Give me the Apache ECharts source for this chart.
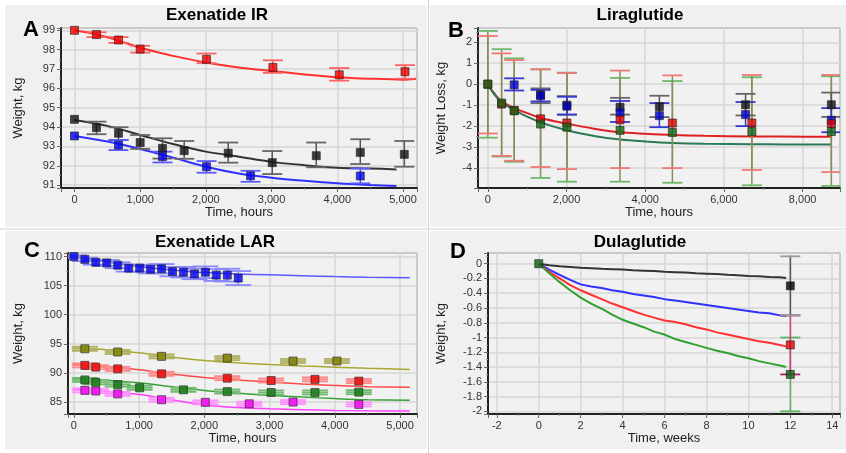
<!DOCTYPE html>
<html>
<head>
<meta charset="utf-8">
<script src="https://cdn.jsdelivr.net/npm/echarts@6/dist/echarts.min.js"></script>
<style>html,body{margin:0;padding:0;background:#fff}#main{width:846px;height:453px}</style>
</head>
<body>
<div id="main"></div>
<script>
// ---- A: Exenatide IR (hours, kg)
var aRedPts = [[0,99.0],[335,98.78],[670,98.5],[1000,98.03],[2010,97.5],[3020,97.08],[4030,96.7],[5030,96.86]];
var aRedErr = [[335,98.65,98.9],[670,98.35,98.65],[1000,97.85,98.2],[2010,97.3,97.8],[3020,96.8,97.45],[4030,96.4,97.05],[5030,96.5,97.2]];
var aBlackPts = [[0,94.4],[335,93.97],[670,93.68],[1000,93.2],[1340,92.9],[1670,92.78],[2340,92.65],[3010,92.16],[3680,92.52],[4350,92.69],[5020,92.59]];
var aBlackErr = [[335,93.63,94.28],[670,93.33,93.99],[1000,92.87,93.59],[1340,92.37,93.42],[1670,92.36,93.28],[2340,92.16,93.2],[3010,91.57,92.76],[3680,91.92,93.2],[4350,92.09,93.37],[5020,91.95,93.28]];
var aBluePts = [[0,93.54],[670,93.07],[1340,92.47],[2010,91.95],[2680,91.48],[4350,91.47]];
var aBlueErr = [[670,92.81,93.33],[1340,92.17,92.73],[2010,91.64,92.24],[2680,91.17,91.74],[4350,91.09,91.86]];
var aRedFit = [[0,99.0],[250,98.85],[500,98.64],[750,98.38],[1000,98.1],[1250,97.88],[1500,97.68],[2000,97.34],[2500,97.08],[3000,96.9],[3500,96.72],[4000,96.58],[4500,96.5],[5000,96.45],[5200,96.5]];
var aBlackFit = [[0,94.37],[500,94.06],[1000,93.59],[1500,93.12],[2000,92.73],[2500,92.47],[3000,92.2],[3500,92.03],[4000,91.9],[4500,91.86],[4900,91.81]];
var aBlueFit = [[0,93.54],[500,93.25],[1000,92.87],[1500,92.42],[2000,91.95],[2500,91.6],[3000,91.38],[3500,91.22],[4000,91.09],[4500,91.0],[4900,90.95]];

// ---- B: Liraglutide (hours, weight loss kg)
var bGreenPts = [[0,0],[350,-0.9],[670,-1.27],[1340,-1.9],[2010,-2.05],[3360,-2.2],[4690,-2.3],[6710,-2.26],[8730,-2.26]];
var bRedPts = [[0,0],[350,-0.95],[670,-1.25],[1340,-1.65],[2010,-1.85],[3360,-1.7],[4690,-1.85],[6710,-1.85],[8730,-1.88]];
var bBluePts = [[670,-0.03],[1340,-0.55],[2010,-1.05],[3360,-1.35],[4360,-1.5],[6550,-1.45],[8730,-1.72]];
var bBlackPts = [[1340,-0.5],[2010,-1.0],[3360,-1.1],[4360,-1.07],[6550,-0.98],[8730,-0.98]];
var bGreenErr = [[0,-2.55,2.54],[350,-3.45,1.67],[670,-3.7,1.23],[1340,-4.47,0.71],[2010,-4.65,0.55],[3360,-4.65,0.3],[4690,-4.7,0.15],[6710,-4.82,0.33],[8730,-4.85,0.38]];
var bRedErr = [[0,-2.35,2.3],[350,-3.42,1.47],[670,-3.65,1.15],[1340,-3.95,0.71],[2010,-4.05,0.53],[3360,-4.0,0.65],[4690,-4.0,0.42],[6710,-4.09,0.44],[8730,-4.19,0.44]];
var bBlueErr = [[670,-0.3,0.28],[1340,-0.82,-0.27],[2010,-1.45,-0.6],[3360,-1.8,-0.8],[4360,-2.05,-0.9],[6550,-2.0,-0.85],[8730,-2.29,-1.14]];
var bBlackErr = [[1340,-0.9,-0.2],[2010,-1.45,-0.57],[3360,-1.45,-0.65],[4360,-1.57,-0.55],[6550,-1.49,-0.46],[8730,-1.56,-0.4]];
var bRedFit = [[0,0],[150,-0.4],[350,-0.82],[670,-1.14],[1000,-1.38],[1340,-1.61],[2010,-1.88],[2700,-2.12],[3360,-2.29],[4000,-2.36],[4690,-2.42],[5500,-2.46],[6700,-2.49],[7500,-2.5],[8730,-2.51]];
var bGreenFit = [[0,0],[150,-0.45],[350,-0.87],[670,-1.22],[1000,-1.55],[1340,-1.82],[2010,-2.2],[2700,-2.47],[3360,-2.64],[4000,-2.73],[4690,-2.8],[5500,-2.84],[6700,-2.86],[7500,-2.87],[8730,-2.88]];

// ---- C: Exenatide LAR (hours, kg)
var cBluePts = [[0,110.0],[168,109.5],[336,109.0],[504,108.9],[672,108.5],[840,108.0],[1008,108.0],[1176,107.8],[1344,107.9],[1512,107.4],[1680,107.3],[1848,107.0],[2016,107.3],[2184,106.8],[2352,106.8],[2520,106.3]];
var cBlueErr = [[0,109.8,110.2],[168,109.2,109.8],[336,108.6,109.4],[504,108.4,109.4],[672,108.0,109.0],[840,107.4,108.6],[1008,107.4,108.6],[1176,107.1,108.5],[1344,107.1,108.7],[1512,106.6,108.2],[1680,106.4,108.2],[1848,106.1,107.9],[2016,106.3,108.3],[2184,105.8,107.8],[2352,105.7,107.9],[2520,105.1,107.5]];
var cOlivePts = [[168,94.15],[672,93.6],[1344,92.85],[2352,92.55],[3360,92.05],[4032,92.05]];
var cOliveErr = [[168,93.8,94.5],[672,93.25,93.95],[1344,92.5,93.2],[2352,92.2,92.9],[3360,91.7,92.4],[4032,91.7,92.4]];
var cRedPts = [[168,91.3],[336,91.0],[672,90.7],[1344,89.85],[2352,89.1],[3024,88.7],[3696,88.9],[4368,88.6]];
var cRedErr = [[168,90.95,91.65],[336,90.65,91.35],[672,90.35,91.05],[1344,89.5,90.2],[2352,88.75,89.45],[3024,88.35,89.05],[3696,88.55,89.25],[4368,88.25,88.95]];
var cGreenPts = [[168,88.8],[336,88.4],[672,88.0],[1008,87.45],[1680,87.1],[2352,86.8],[3024,86.65],[3696,86.65],[4368,86.7]];
var cGreenErr = [[168,88.45,89.15],[336,88.05,88.75],[672,87.65,88.35],[1008,87.1,87.8],[1680,86.75,87.45],[2352,86.45,87.15],[3024,86.3,87.0],[3696,86.3,87.0],[4368,86.35,87.05]];
var cMagentaPts = [[168,87.0],[336,86.9],[672,86.4],[1344,85.4],[2016,84.95],[2688,84.7],[3360,85.0],[4368,84.6]];
var cMagentaErr = [[168,86.65,87.35],[336,86.55,87.25],[672,86.05,86.75],[1344,85.05,85.75],[2016,84.6,85.3],[2688,84.35,85.05],[3360,84.65,85.35],[4368,84.25,84.95]];
var cBlueFit = [[0,110.0],[250,109.55],[500,109.1],[1000,108.3],[1500,107.7],[2000,107.25],[2500,107.0],[3000,106.85],[3500,106.7],[4000,106.55],[4500,106.45],[5150,106.35]];
var cOliveFit = [[0,94.3],[500,94.0],[1000,93.45],[1500,92.7],[2000,92.15],[2500,91.75],[3000,91.45],[3500,91.2],[4000,91.0],[4500,90.8],[5150,90.6]];
var cRedFit = [[0,91.4],[500,91.1],[1000,90.55],[1500,89.8],[2000,89.2],[2500,88.8],[3000,88.45],[3500,88.1],[4000,87.85],[4500,87.65],[5150,87.55]];
var cGreenFit = [[0,89.0],[500,88.75],[1000,88.3],[1500,87.65],[2000,87.0],[2500,86.5],[3000,86.15],[3500,85.85],[4000,85.6],[4500,85.4],[5150,85.3]];
var cMagentaFit = [[0,87.1],[500,86.85],[1000,86.3],[1500,85.4],[2000,84.5],[2500,84.05],[3000,83.85],[3500,83.7],[4000,83.57],[4500,83.5],[5150,83.45]];

// ---- D: Dulaglutide (weeks, kg)
var dWeeks = [0,0.5,1,1.5,2,2.5,3,3.5,4,4.5,5,5.5,6,6.5,7,7.5,8,8.5,9,9.5,10,10.5,11,11.5,11.8];
var dBlack = [0,-0.02,-0.035,-0.045,-0.055,-0.06,-0.07,-0.075,-0.08,-0.09,-0.095,-0.1,-0.11,-0.115,-0.12,-0.13,-0.135,-0.14,-0.15,-0.155,-0.165,-0.17,-0.18,-0.185,-0.195];
var dBlue = [0,-0.08,-0.15,-0.22,-0.28,-0.31,-0.33,-0.36,-0.38,-0.41,-0.43,-0.45,-0.48,-0.5,-0.52,-0.54,-0.56,-0.58,-0.6,-0.62,-0.64,-0.66,-0.67,-0.7,-0.71];
var dRed = [0,-0.11,-0.2,-0.29,-0.36,-0.42,-0.48,-0.54,-0.59,-0.64,-0.69,-0.73,-0.77,-0.79,-0.82,-0.86,-0.89,-0.93,-0.96,-0.99,-1.02,-1.05,-1.07,-1.1,-1.12];
var dGreen = [0,-0.13,-0.25,-0.36,-0.46,-0.54,-0.61,-0.69,-0.76,-0.81,-0.86,-0.92,-0.96,-1.02,-1.06,-1.1,-1.14,-1.18,-1.21,-1.25,-1.28,-1.32,-1.35,-1.38,-1.4];
var dBlackPts = [[12,-0.3]];
var dRedPts = [[12,-1.1]];
var dGreenPts = [[0,0],[12,-1.5]];
var dBlackErr = [[12,-0.7,0.1]];
var dRedErr = [[12,-1.5,-0.7]];
var dGreenErr = [[12,-2.0,-1.0]];

var FONT = '"Liberation Sans", Arial, sans-serif';

function zip(xs, ys) {
    return xs.map(function (x, i) { return [x, ys[i]]; });
}

// label only the "nice" ticks, the extent ticks stay blank
function onStep(step, fmt) {
    return function (v) {
        var k = v / step;
        if (Math.abs(k - Math.round(k)) > 1e-6) return '';
        return fmt(Math.round(k) * step);
    };
}
function thousands(v) { return v.toLocaleString('en-US'); }
function plain(v) { return String(Math.round(v * 10) / 10); }

function axis(i, min, max, split, step, fmt, name, gap) {
    return {
        type: 'value', gridIndex: i, min: min, max: max, splitNumber: split,
        name: name, nameLocation: 'middle', nameGap: gap,
        nameTextStyle: {fontFamily: FONT, fontSize: 13, color: '#222'},
        axisLine: {show: true, onZero: false, lineStyle: {color: '#222', width: 2}},
        axisTick: {show: true, length: 4, lineStyle: {color: '#666'}},
        minorTick: {show: true, splitNumber: 2, length: 2, lineStyle: {color: '#999'}},
        axisLabel: {fontFamily: FONT, fontSize: 11, color: '#333', margin: 6, formatter: onStep(step, fmt)},
        splitLine: {show: true, lineStyle: {color: '#d6d6d6', width: 1.5}}
    };
}

function errSeries(i, data, capHalf, stemColor, capColor, mid) {
    return {
        type: 'custom', xAxisIndex: i, yAxisIndex: i, data: data, z: 3, silent: true, clip: true,
        encode: {x: 0, y: [1, 2]},
        renderItem: function (params, api) {
            var x = api.value(0);
            var lo = api.coord([x, api.value(1)]);
            var hi = api.coord([x, api.value(2)]);
            var kids = [
                {type: 'line', shape: {x1: lo[0], y1: lo[1], x2: hi[0], y2: hi[1]}, style: {stroke: stemColor, lineWidth: 1.5}},
                {type: 'line', shape: {x1: lo[0] - capHalf, y1: lo[1], x2: lo[0] + capHalf, y2: lo[1]}, style: {stroke: capColor, lineWidth: 1.8}},
                {type: 'line', shape: {x1: hi[0] - capHalf, y1: hi[1], x2: hi[0] + capHalf, y2: hi[1]}, style: {stroke: capColor, lineWidth: 1.8}}
            ];
            if (mid) {
                var m = api.coord([x, (api.value(1) + api.value(2)) / 2]);
                kids.push({type: 'line', shape: {x1: m[0] - capHalf, y1: m[1], x2: m[0] + capHalf, y2: m[1]}, style: {stroke: capColor, lineWidth: 1.8}});
            }
            return {type: 'group', children: kids};
        }
    };
}

function curve(i, data, color, width, smooth) {
    return {
        type: 'line', xAxisIndex: i, yAxisIndex: i, data: data, showSymbol: false, symbol: 'none',
        smooth: smooth, lineStyle: {color: color, width: width}, z: 2, silent: true
    };
}

function pts(i, data, color) {
    return {
        type: 'scatter', xAxisIndex: i, yAxisIndex: i, data: data, symbol: 'rect', symbolSize: 8,
        itemStyle: {color: color, borderColor: '#222', borderWidth: 0.8}, z: 5, silent: true
    };
}

function txt(x, y, s, size, align) {
    return {
        type: 'text', x: x, y: y, z: 100,
        style: {text: s, fontFamily: FONT, fontWeight: 'bold', fontSize: size, fill: '#000',
                textAlign: align, textVerticalAlign: 'middle'}
    };
}

function panel(x, y, w, h) {
    return {type: 'rect', z: -10, shape: {x: x, y: y, width: w, height: h}, style: {fill: '#f0f0f0'}};
}

var gridBase = {show: true, backgroundColor: '#f1f1f1', borderColor: '#555', borderWidth: 1, containLabel: false};

var option = {
    animation: false,
    backgroundColor: '#ffffff',
    graphic: [
        panel(5, 5, 422, 222), panel(430, 5, 416, 222),
        panel(5, 231, 422, 218), panel(430, 231, 416, 218),
        {type: 'line', z: -9, shape: {x1: 428.5, y1: 0, x2: 428.5, y2: 453}, style: {stroke: '#d0d0d0', lineWidth: 1}},
        {type: 'line', z: -9, shape: {x1: 0, y1: 229, x2: 846, y2: 229}, style: {stroke: '#d0d0d0', lineWidth: 1}},
        txt(217, 15, 'Exenatide IR', 17, 'center'),
        txt(640, 15, 'Liraglutide', 17, 'center'),
        txt(215, 242, 'Exenatide LAR', 17, 'center'),
        txt(640, 242, 'Dulaglutide', 17, 'center'),
        txt(23, 30, 'A', 22, 'left'),
        txt(448, 31, 'B', 22, 'left'),
        txt(24, 251, 'C', 22, 'left'),
        txt(450, 252, 'D', 22, 'left')
    ],
    grid: [
        Object.assign({left: 61, top: 28, width: 356, height: 160}, gridBase),
        Object.assign({left: 478, top: 28, width: 362, height: 160}, gridBase),
        Object.assign({left: 68, top: 253, width: 349, height: 161}, gridBase),
        Object.assign({left: 488, top: 253, width: 352, height: 161}, gridBase)
    ],
    xAxis: [
        axis(0, -205, 5213, 5, 1000, thousands, 'Time, hours', 18),
        axis(1, -250, 8950, 5, 2000, thousands, 'Time, hours', 18),
        axis(2, -90, 5260, 5, 1000, thousands, 'Time, hours', 18),
        axis(3, -2.42, 14.37, 8, 2, plain, 'Time, weeks', 18)
    ],
    yAxis: [
        axis(0, 90.85, 99.12, 8, 1, plain, 'Weight, kg', 36),
        axis(1, -4.95, 2.68, 7, 1, plain, 'Weight Loss, kg', 30),
        axis(2, 82.95, 110.6, 5, 5, plain, 'Weight, kg', 43),
        axis(3, -2.036, 0.145, 10, 0.2, plain, 'Weight, kg', 40)
    ],
    series: [
        // A
        curve(0, aRedFit, '#ff3030', 2, 0.3),
        curve(0, aBlackFit, '#333333', 2, 0.3),
        curve(0, aBlueFit, '#3030ff', 2, 0.3),
        errSeries(0, aRedErr, 10, '#ff5050', '#ff6060', false),
        errSeries(0, aBlackErr, 10, '#555555', '#666666', false),
        errSeries(0, aBlueErr, 10, '#4848ff', '#5a5aff', false),
        pts(0, aRedPts, '#ee0000'),
        pts(0, aBlackPts, '#111111'),
        pts(0, aBluePts, '#0000ee'),
        // B
        curve(1, bRedFit, '#e02020', 2, 0.3),
        curve(1, bGreenFit, '#2a7a55', 2, 0.3),
        errSeries(1, bGreenErr, 10, '#8c8c5a', '#6ab86a', false),
        errSeries(1, bRedErr, 10, '#8c8c5a', '#f07878', false),
        errSeries(1, bBlackErr, 10, '#555555', '#666666', false),
        errSeries(1, bBlueErr, 10, '#3838d0', '#3838d0', false),
        pts(1, bBlackPts, '#111111'),
        pts(1, bBluePts, '#0000cc'),
        pts(1, bRedPts, '#dd0000'),
        pts(1, bGreenPts, '#116611'),
        // C
        curve(2, cBlueFit, '#5a5aff', 1.5, 0.3),
        curve(2, cOliveFit, '#a8a830', 1.5, 0.3),
        curve(2, cRedFit, '#ff4848', 1.5, 0.3),
        curve(2, cGreenFit, '#38a038', 1.5, 0.3),
        curve(2, cMagentaFit, '#ff40ff', 1.5, 0.3),
        errSeries(2, cBlueErr, 13, '#8080ff', '#8888ff', false),
        errSeries(2, cOliveErr, 13, '#a0a050', '#b0b060', true),
        errSeries(2, cRedErr, 13, '#ff8080', '#ff8888', true),
        errSeries(2, cGreenErr, 13, '#60b060', '#70bb70', true),
        errSeries(2, cMagentaErr, 13, '#ff80ff', '#ff90ff', true),
        pts(2, cBluePts, '#0000ee'),
        pts(2, cOlivePts, '#808000'),
        pts(2, cRedPts, '#ee0000'),
        pts(2, cGreenPts, '#117711'),
        pts(2, cMagentaPts, '#ee00ee'),
        // D
        curve(3, zip(dWeeks, dBlack), '#333333', 2, false),
        curve(3, zip(dWeeks, dBlue), '#3030ff', 2, false),
        curve(3, zip(dWeeks, dRed), '#ff3030', 2, false),
        curve(3, zip(dWeeks, dGreen), '#30a030', 2, false),
        errSeries(3, dGreenErr, 10, '#60b060', '#60b060', false),
        errSeries(3, dRedErr, 10, '#d04080', '#a02060', false),
        errSeries(3, dBlackErr, 10, '#555555', '#999999', false),
        pts(3, dBlackPts, '#000000'),
        pts(3, dRedPts, '#e00000'),
        pts(3, dGreenPts, '#106010')
    ]
};

var chart = echarts.init(document.getElementById('main'));
chart.setOption(option);
</script>
</body>
</html>
